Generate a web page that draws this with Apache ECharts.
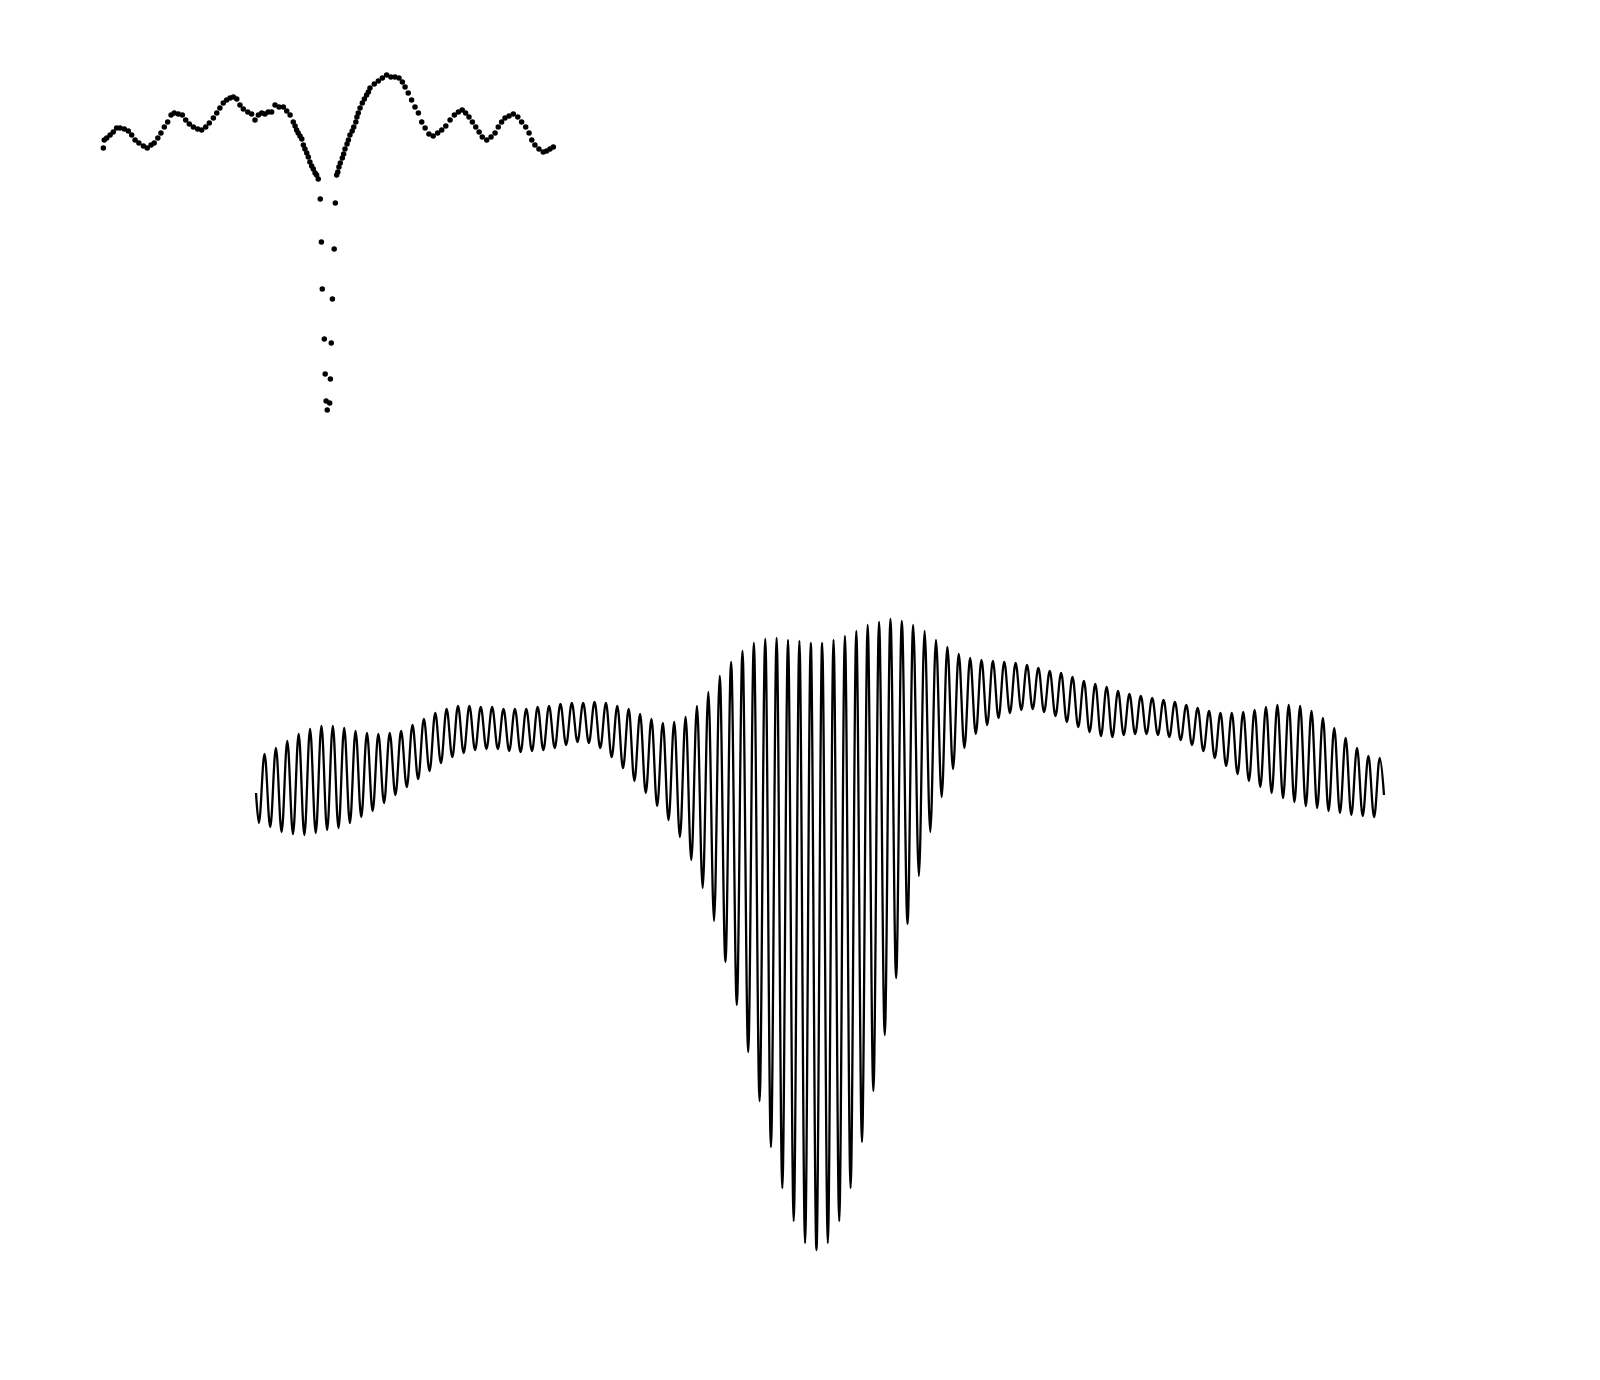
<!DOCTYPE html>
<html>
<head>
<meta charset="utf-8">
<script src="https://cdn.jsdelivr.net/npm/echarts@6/dist/echarts.min.js"></script>
<style>
  html, body { margin: 0; padding: 0; background: #fff; }
  #container { width: 1600px; height: 1380px; }
</style>
</head>
<body>
<div id="container"></div>
<script>
// top panel: response (dB) against normalised position
var scatterX = [
  -0.994, -0.990, -0.979, -0.964, -0.950, -0.935, -0.920, -0.901, -0.883, -0.868,
  -0.853, -0.836, -0.816, -0.799, -0.782, -0.768, -0.752, -0.738, -0.723, -0.708,
  -0.693, -0.679, -0.661, -0.643, -0.628, -0.612, -0.594, -0.575, -0.557, -0.539,
  -0.523, -0.505, -0.490, -0.476, -0.461, -0.446, -0.431, -0.416, -0.401, -0.387,
  -0.372, -0.352, -0.335, -0.320, -0.305, -0.290, -0.276, -0.261, -0.246, -0.231,
  -0.213, -0.194, -0.179, -0.164,
  -0.150, -0.142, -0.135, -0.128, -0.120, -0.112, -0.105, -0.098, -0.090, -0.083,
  -0.076, -0.068, -0.061, -0.053, -0.046, -0.039,
  -0.030, -0.025, -0.021, -0.012, -0.008, -0.004, 0.001, 0.012, 0.015, 0.019,
  0.024, 0.032, 0.037,
  0.043, 0.048, 0.053, 0.059, 0.068, 0.074, 0.080, 0.089, 0.095, 0.102,
  0.112, 0.119, 0.128, 0.133, 0.139, 0.147, 0.157, 0.166, 0.176, 0.184,
  0.191, 0.210, 0.228, 0.246, 0.265, 0.284, 0.302, 0.320, 0.335, 0.347,
  0.361, 0.376, 0.391, 0.406, 0.421, 0.436, 0.453, 0.472, 0.492, 0.510,
  0.528, 0.547, 0.566, 0.584, 0.601, 0.616, 0.631, 0.646, 0.661, 0.676,
  0.690, 0.710, 0.729, 0.747, 0.761, 0.776, 0.791, 0.809, 0.828, 0.848,
  0.865, 0.883, 0.898, 0.910, 0.924, 0.942, 0.961, 0.976, 0.991, 1.006
];
var scatterY = [
  -7.4, -6.6, -6.4, -6.1, -5.8, -5.4, -5.4, -5.5, -5.7, -6.1,
  -6.6, -6.9, -7.2, -7.4, -7.1, -6.9, -6.4, -5.9, -5.3, -4.8,
  -4.1, -3.9, -4.0, -4.1, -4.6, -5.0, -5.3, -5.5, -5.6, -5.3,
  -4.9, -4.4, -3.9, -3.4, -2.9, -2.6, -2.4, -2.3, -2.5, -3.1,
  -3.5, -3.8, -4.0, -4.6, -4.1, -3.9, -4.0, -3.8, -3.8, -3.1,
  -3.3, -3.3, -3.7, -4.1,
  -4.8, -5.2, -5.6, -5.9, -6.2, -6.5, -7.1, -7.5, -7.9, -8.3,
  -8.8, -9.2, -9.5, -9.9, -10.1, -10.5,
  -12.5, -16.8, -21.5, -26.5, -30.0, -32.7, -33.6, -32.9, -30.5, -26.9,
  -22.5, -17.5, -12.9,
  -10.1, -9.8, -9.3, -8.9, -8.4, -8.0, -7.5, -7.0, -6.6, -6.1,
  -5.7, -5.3, -4.8, -4.3, -3.9, -3.4, -2.9, -2.5, -2.1, -1.8,
  -1.4, -1.0, -0.7, -0.4, -0.1, -0.3, -0.3, -0.4, -0.8, -1.3,
  -1.9, -2.6, -3.3, -3.9, -4.8, -5.4, -6.0, -6.2, -5.9, -5.6,
  -5.2, -4.6, -4.1, -3.8, -3.6, -3.9, -4.3, -4.8, -5.3, -5.8,
  -6.3, -6.6, -6.3, -5.9, -5.3, -4.8, -4.4, -4.2, -4.0, -4.3,
  -4.8, -5.3, -5.9, -6.6, -7.1, -7.5, -7.8, -7.7, -7.5, -7.3
];

// bottom panel: signal, one trough and one peak per cycle (99 cycles)
var troughs = [
  -0.43, -0.47, -0.52, -0.54, -0.55, -0.53, -0.50, -0.48, -0.43, -0.37,
  -0.31, -0.23, -0.15, -0.07, 0.01, 0.09, 0.17, 0.23, 0.27, 0.30,
  0.31, 0.31, 0.29, 0.28, 0.29, 0.30, 0.32, 0.35, 0.38, 0.37,
  0.32, 0.23, 0.12, -0.01, -0.13, -0.26, -0.40, -0.57, -0.80, -1.08,
  -1.41, -1.82, -2.25, -2.72, -3.21, -3.67, -4.08, -4.41, -4.63, -4.70,
  -4.63, -4.41, -4.08, -3.62, -3.11, -2.55, -1.98, -1.44, -0.96, -0.52,
  -0.17, 0.11, 0.32, 0.46, 0.55, 0.62, 0.67, 0.70, 0.71, 0.68,
  0.64, 0.58, 0.53, 0.48, 0.44, 0.43, 0.45, 0.46, 0.46, 0.45,
  0.43, 0.40, 0.35, 0.29, 0.22, 0.14, 0.06, -0.01, -0.07, -0.13,
  -0.18, -0.22, -0.26, -0.28, -0.31, -0.33, -0.35, -0.36, -0.37
];
var peaks = [
  0.26, 0.32, 0.39, 0.46, 0.51, 0.54, 0.54, 0.52, 0.49, 0.47,
  0.46, 0.47, 0.49, 0.55, 0.61, 0.67, 0.71, 0.74, 0.74, 0.73,
  0.73, 0.71, 0.71, 0.71, 0.73, 0.74, 0.76, 0.77, 0.77, 0.78,
  0.77, 0.74, 0.71, 0.66, 0.61, 0.57, 0.58, 0.63, 0.74, 0.88,
  1.04, 1.18, 1.29, 1.37, 1.41, 1.42, 1.40, 1.39, 1.37, 1.37,
  1.40, 1.44, 1.49, 1.55, 1.58, 1.61, 1.59, 1.55, 1.49, 1.40,
  1.33, 1.26, 1.22, 1.20, 1.19, 1.18, 1.17, 1.15, 1.12, 1.09,
  1.07, 1.03, 0.99, 0.96, 0.93, 0.89, 0.86, 0.84, 0.82, 0.80,
  0.78, 0.75, 0.72, 0.69, 0.67, 0.67, 0.68, 0.70, 0.73, 0.75,
  0.75, 0.74, 0.69, 0.62, 0.52, 0.42, 0.32, 0.24, 0.22
];
var lineStart = [0, -0.13];
var lineEnd = [99.12, -0.15];

var dom = document.getElementById('container');
var myChart = echarts.init(dom, null, { renderer: 'canvas' });

var scatterData = [];
for (var i = 0; i < scatterX.length; i++) {
    scatterData.push([scatterX[i], scatterY[i]]);
}

// trough of cycle k sits at k+0.25, peak at k+0.75
var lineData = [lineStart];
for (var k = 0; k < troughs.length; k++) {
    lineData.push([k + 0.25, troughs[k]]);
    lineData.push([k + 0.75, peaks[k]]);
}
lineData.push(lineEnd);

var hidden = { show: false };

var option = {
    backgroundColor: '#fff',
    animation: false,
    grid: [
        { left: 102, top: 54, width: 454.5, height: 380 },
        { left: 256, top: 580, width: 1138, height: 700 }
    ],
    xAxis: [
        { type: 'value', gridIndex: 0, min: -1, max: 1.02, axisLine: hidden, axisTick: hidden, axisLabel: hidden, splitLine: hidden },
        { type: 'value', gridIndex: 1, min: 0, max: 100, axisLine: hidden, axisTick: hidden, axisLabel: hidden, splitLine: hidden }
    ],
    yAxis: [
        { type: 'value', gridIndex: 0, min: -36, max: 2, axisLine: hidden, axisTick: hidden, axisLabel: hidden, splitLine: hidden },
        { type: 'value', gridIndex: 1, min: -5, max: 2, axisLine: hidden, axisTick: hidden, axisLabel: hidden, splitLine: hidden }
    ],
    series: [
        {
            type: 'scatter',
            xAxisIndex: 0,
            yAxisIndex: 0,
            symbol: 'circle',
            symbolSize: 5.5,
            itemStyle: { color: '#000', opacity: 1 },
            data: scatterData
        },
        {
            type: 'line',
            xAxisIndex: 1,
            yAxisIndex: 1,
            showSymbol: false,
            smooth: 0.36,
            smoothMonotone: 'x',
            lineStyle: { color: '#000', width: 2.3 },
            data: lineData
        }
    ]
};

if (option && typeof option === "object") {
    myChart.setOption(option, true);
}
</script>
</body>
</html>
